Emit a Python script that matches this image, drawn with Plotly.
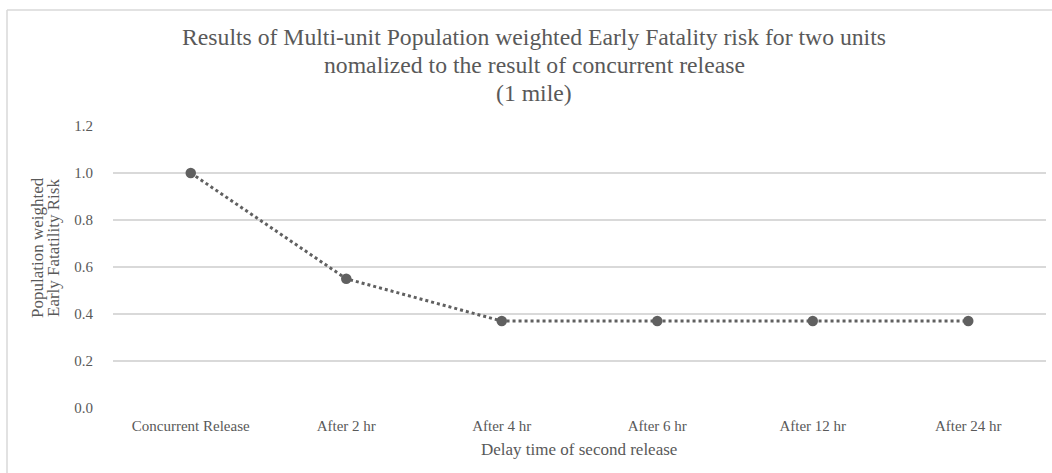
import plotly.graph_objects as go

categories = ["Concurrent Release", "After 2 hr", "After 4 hr", "After 6 hr", "After 12 hr", "After 24 hr"]
risk_values = [1.0, 0.55, 0.37, 0.37, 0.37, 0.37]
y_ticks = [0.0, 0.2, 0.4, 0.6, 0.8, 1.0, 1.2]
y_tick_labels = ["0.0", "0.2", "0.4", "0.6", "0.8", "1.0", "1.2"]
title_lines = [
    "Results of Multi-unit Population weighted Early Fatality risk for two units",
    "nomalized to the result of concurrent release",
    "(1 mile)",
]
y_title_lines = ["Population weighted", "Early Fatatility Risk"]
x_title = "Delay time of second release"

W, H = 1052, 473
L, R, T, B = 113, 6, 126, 65
pw, ph = W - L - R, H - T - B

def px(x):
    return (x - L) / pw

def py(y):
    return (H - B - y) / ph

FONT = "Liberation Serif"
TXT = "#595959"

fig = go.Figure()
fig.add_trace(go.Scatter(
    x=categories, y=risk_values, mode="lines+markers",
    line=dict(color="#606060", width=3, dash="dot"),
    marker=dict(color="#606060", size=10.5, symbol="circle"),
    showlegend=False,
))

annotations = []
for i, t in enumerate(title_lines):
    annotations.append(dict(
        text=t, xref="paper", yref="paper", x=px(534), y=py(37 + 28 * i),
        xanchor="center", yanchor="middle", showarrow=False,
        font=dict(family=FONT, size=23.7, color=TXT)))
for i, t in enumerate(y_title_lines):
    annotations.append(dict(
        text=t, xref="paper", yref="paper", x=px(37 + 16 * i), y=py(248),
        xanchor="center", yanchor="middle", textangle=-90, showarrow=False,
        font=dict(family=FONT, size=17, color=TXT)))
annotations.append(dict(
    text=x_title, xref="paper", yref="paper", x=px(579), y=py(449),
    xanchor="center", yanchor="middle", showarrow=False,
    font=dict(family=FONT, size=17, color=TXT)))

fig.update_layout(
    width=W, height=H,
    margin=dict(l=L, r=R, t=T, b=B),
    paper_bgcolor="white", plot_bgcolor="white",
    font=dict(family=FONT, color=TXT),
    xaxis=dict(
        type="category", range=[-0.5, 5.5], showgrid=False, zeroline=False, showline=False,
        tickfont=dict(family=FONT, size=15, color=TXT),
        ticklabelstandoff=7,
    ),
    yaxis=dict(
        range=[0, 1.2], tickvals=y_ticks, ticktext=y_tick_labels,
        showgrid=True, gridcolor="#d9d9d9", gridwidth=1.5,
        zeroline=False, showline=False,
        tickfont=dict(family=FONT, size=15, color=TXT),
        ticklabelstandoff=19,
    ),
    annotations=annotations,
    shapes=[
        dict(type="line", xref="paper", yref="paper", x0=px(7), x1=px(7), y0=py(480), y1=py(10),
             line=dict(color="#d9d9d9", width=1.5)),
        dict(type="line", xref="paper", yref="paper", x0=px(7), x1=px(1060), y0=py(10), y1=py(10),
             line=dict(color="#d9d9d9", width=1.5)),
    ],
)

fig.write_html("out.html")
